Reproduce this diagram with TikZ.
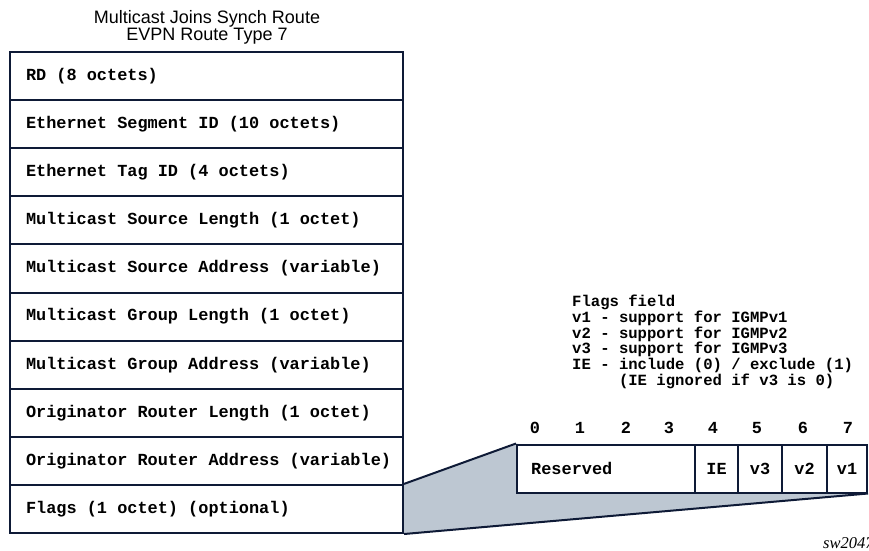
\documentclass[tikz,border=0pt]{standalone}
\usepackage{fontspec}
\setmainfont{Liberation Sans}
\newfontfamily\monob{Liberation Mono}[BoldFont={Liberation Mono Bold}]
\newfontfamily\serifit{Liberation Serif}
\newcommand\courb[1]{\monob\bfseries\fontsize{#1}{#1}\selectfont\spaceskip=0.6em\relax}
\newcommand\courbl[2]{\monob\bfseries\fontsize{#1}{#2}\selectfont\spaceskip=0.6em\relax}
\definecolor{navy}{HTML}{0E1A36}
\definecolor{wedge}{HTML}{BDC7D2}
\pgfdeclarelayer{bg}
\pgfsetlayers{bg,main}
\tikzset{
  row/.style={draw=navy, line width=2pt, fill=white, minimum height=48.1pt,
    text width=361pt, inner xsep=16pt, inner ysep=0pt, align=left,
    font=\courb{16.9}},
  cell/.style={draw=navy, line width=2pt, fill=white, minimum height=48pt,
    inner sep=0pt, font=\courb{16.9}},
  bit/.style={font=\courb{16.9}, inner sep=0pt},
  edge/.style={draw=navy, line width=2pt, line join=round}
}
\begin{document}
\begin{tikzpicture}[x=1pt,y=-1pt]
\useasboundingbox (0,0) rectangle (869,550);
\node[align=center, font=\fontsize{18}{15.5}\selectfont, inner sep=0pt] (title) at (207,27)
  {Multicast Joins Synch Route\\EVPN Route Type 7};
\foreach \i/\nm/\txt in {0/rd/RD (8 octets),
  1/esi/Ethernet Segment ID (10 octets),
  2/etag/Ethernet Tag ID (4 octets),
  3/msl/Multicast Source Length (1 octet),
  4/msa/Multicast Source Address (variable),
  5/mgl/Multicast Group Length (1 octet),
  6/mga/Multicast Group Address (variable),
  7/orl/Originator Router Length (1 octet),
  8/ora/Originator Router Address (variable),
  9/flg/Flags (1 octet) (optional)}{
  \node[row] (\nm) at (206.5,{52+48.1*(\i+0.5)}) {\mbox{\spaceskip=0.6em\relax\txt}};
}
% flags bit box
\node[cell, minimum width=178pt] (res) at (606,468.5) {};
\node[bit, anchor=west] (restxt) at (531,468.5) {Reserved};
\node[cell, minimum width=43pt] (ie) at (716.5,468.5) {IE};
\node[cell, minimum width=44pt] (v3) at (760,468.5) {v3};
\node[cell, minimum width=45pt] (v2) at (804.5,468.5) {v2};
\node[cell, minimum width=40pt] (v1) at (847,468.5) {v1};
\foreach \d/\x in {0/535,1/580,2/626,3/669,4/713,5/757,6/803,7/848}{
  \node[bit] (b\d) at (\x,428) {\d};
}
\begin{pgfonlayer}{bg}
  \fill[wedge] (flg.north east) -- (res.north west) -- (v1.south east) -- (flg.south east) -- cycle;
\end{pgfonlayer}
\draw[edge] (flg.north east) -- (res.north west);
\draw[edge] (flg.south east) -- (v1.south east);
\node[anchor=north west, align=left, inner sep=0pt,
  font=\courbl{15.6}{15.7}] (legend) at (572,295)
  {Flags field\\
   v1 - support for IGMPv1\\
   v2 - support for IGMPv2\\
   v3 - support for IGMPv3\\
   IE - include (0) / exclude (1)\\
   \hspace*{3em}(IE ignored if v3 is 0)};
\node[anchor=west, inner sep=0pt, font=\serifit\itshape\fontsize{16.5}{17}\selectfont] (sw) at (823,543) {sw2047};
\end{tikzpicture}
\end{document}
